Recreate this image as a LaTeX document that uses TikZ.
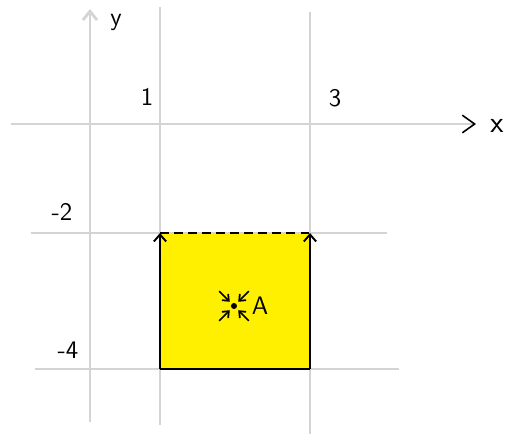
\documentclass[tikz,border=0pt]{standalone}
\usepackage{tikz}
\usepackage{xcolor}
\usetikzlibrary{positioning, calc, arrows.meta}

\begin{document}
\begin{tikzpicture}[
  x=0.02cm, y=-0.02cm,
  font=\sffamily\Large,
  gridline/.style={cgrid, line width=1.6pt},
  edge/.style={black, line width=1.1pt},
  tick/.style={inner sep=0pt, text=black},
]
\definecolor{cgrid}{HTML}{D4D4D4}   % light grey grid
\definecolor{cfill}{HTML}{FFF000}   % yellow square

\useasboundingbox (0,0) rectangle (512,434);

% -------- grid lines --------
\coordinate (xs) at (11,124);  \coordinate (xe) at (476,124);
\coordinate (ys) at (90,422);  \coordinate (ye) at (90,9);
\draw[gridline] (160,7) -- (160,425);
\draw[gridline] (310,12) -- (310,434);
\draw[gridline] (31,233) -- (387,233);
\draw[gridline] (35,369) -- (399,369);

% axes
\draw[gridline, -{Straight Barb[length=7pt, width=10pt, color=black, line width=0.9pt]}] (xs) -- (xe);
\draw[gridline, -{Straight Barb[length=5pt, width=8pt]}] (ys) -- (ye);
\node[tick, font=\sffamily\LARGE] (xlab) at (497,126) {x};
\node[tick] (ylab) at (116,22) {y};

% tick labels
\node[tick] (t1) at (147,97) {1};
\node[tick] (t3) at (335,98) {3};
\node[tick] (tm2) at (62,212) {-2};
\node[tick] (tm4) at (68,350) {-4};

% =====================================================================
% Yellow square
% =====================================================================
\coordinate (sq1) at (160,369);
\coordinate (sq2) at (310,369);
\coordinate (sq3) at (310,233);
\coordinate (sq4) at (160,233);
\fill[cfill] (sq1) rectangle (sq3);
\draw[edge] (sq1) -- (sq2);
\draw[edge, dash pattern=on 5pt off 3pt] (sq4) -- (sq3);
\draw[edge, -{Straight Barb[length=4pt, width=7pt]}] (sq1) -- (sq4);
\draw[edge, -{Straight Barb[length=4pt, width=7pt]}] (sq2) -- (sq3);

% point A with converging arrows
\coordinate (pA) at (234,306);
\fill[black] (pA) circle (3);
\foreach \a in {45,135,225,315} {
  \draw[black, line width=1pt, -{Straight Barb[length=3pt, width=5pt]}]
    ($(pA)+(\a:21)$) -- ($(pA)+(\a:6)$);
}
\node[tick, right=10pt of pA] (lA) {A};

\end{tikzpicture}
\end{document}
